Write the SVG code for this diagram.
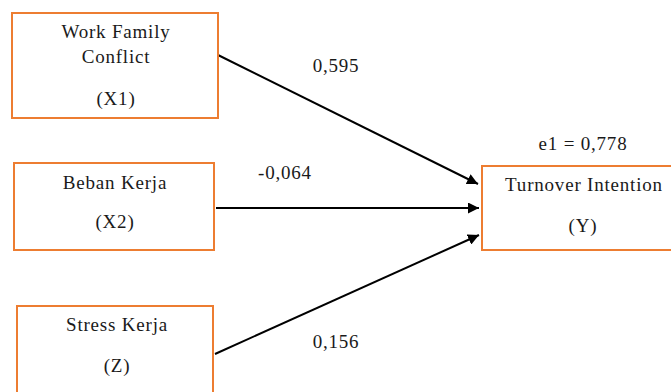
<svg xmlns="http://www.w3.org/2000/svg" width="671" height="392" viewBox="0 0 671 392">
<style>
.box{fill:#fff;stroke:#ED7D31;stroke-width:2}
text{font-family:'Liberation Serif','DejaVu Serif',serif;font-size:19px;letter-spacing:0.8px;fill:#1a1a1a;text-anchor:middle}
.c{stroke:#000;stroke-width:2;fill:none}
</style>
<defs>
<marker id="ah" viewBox="0 0 10 10" refX="10" refY="5" markerWidth="5.5" markerHeight="5.5" orient="auto" markerUnits="strokeWidth">
<path d="M0,0 L10,5 L0,10 z" fill="#000"/>
</marker>
</defs>
<rect width="671" height="392" fill="#fff"/>
<g id="connectors">
<line class="c" x1="218" y1="55" x2="478" y2="184" marker-end="url(#ah)"/>
<line class="c" x1="216" y1="208" x2="479" y2="208" marker-end="url(#ah)"/>
<line class="c" x1="215" y1="354" x2="479" y2="235" marker-end="url(#ah)"/>
<text x="336" y="72">0,595</text>
<text x="285" y="179">-0,064</text>
<text x="336" y="348">0,156</text>
</g>
<g id="X1">
<rect class="box" x="12" y="13" width="206" height="105"/>
<text x="116" y="38">Work Family</text>
<text x="116" y="63">Conflict</text>
<text x="116" y="105">(X1)</text>
</g>
<g id="X2">
<rect class="box" x="14" y="163" width="200" height="87"/>
<text x="115" y="189">Beban Kerja</text>
<text x="115" y="228">(X2)</text>
</g>
<g id="Z">
<rect class="box" x="17" y="306" width="196" height="95"/>
<text x="117" y="331">Stress Kerja</text>
<text x="117" y="372">(Z)</text>
</g>
<g id="Y">
<rect class="box" x="482" y="166" width="200" height="84"/>
<text x="584" y="191">Turnover Intention</text>
<text x="583" y="232">(Y)</text>
</g>
<text x="583" y="150">e1 = 0,778</text>
</svg>
